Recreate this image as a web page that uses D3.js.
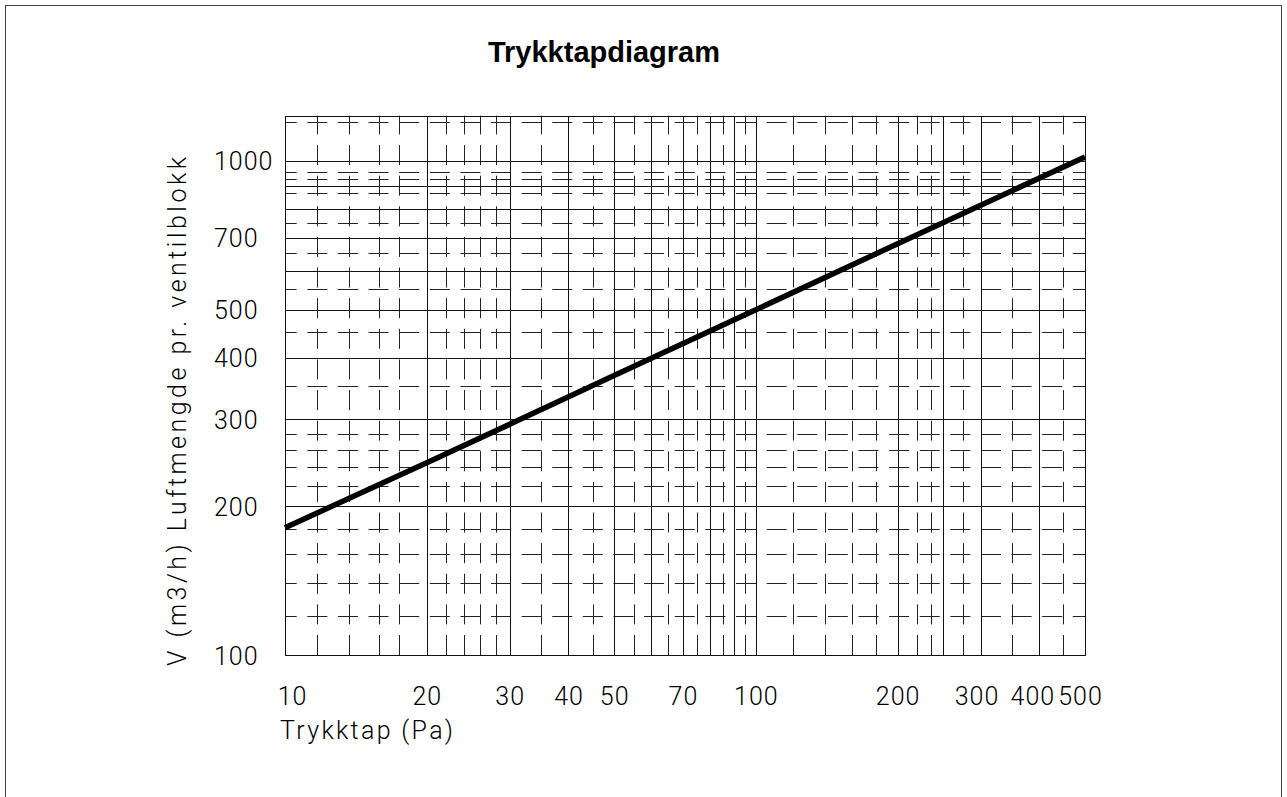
<!DOCTYPE html>
<html>
<head>
<meta charset="utf-8">
<script src="https://cdn.jsdelivr.net/npm/d3@7"></script>
<style>
  html, body { margin: 0; padding: 0; background: #fff; }
  svg { display: block; }
  .cad { font-family: Roboto, "DejaVu Sans", sans-serif; font-weight: 300; fill: #000; }
</style>
</head>
<body>
<svg id="chart" width="1287" height="797"></svg>
<script>
// ---- data ----
const chartTitle = "Trykktapdiagram";
const xTitle = "Trykktap (Pa)";
const yTitle = "V (m3/h) Luftmengde pr. ventilblokk";

const pressureDomain = [10, 500];
const flowDomain = [100, 1235];

const pressureTicks = [10, 20, 30, 40, 50, 70, 100, 200, 300, 400, 500];
const flowTicks = [100, 200, 300, 400, 500, 700, 1000];

const xGridSolid = [20, 30, 40, 50, 60, 70, 80, 90, 100, 200, 250, 300, 400];
const xGridDashed = [11.7, 13.7, 15.8, 17.5, 22, 24, 26, 28, 35, 45, 55, 65, 75, 85, 95,
                     120, 140, 160, 180, 220, 235, 275, 350, 450];
const yGridSolid = [200, 300, 400, 500, 600, 700, 800, 890, 1000];
const yGridDashed = [120, 140, 160, 180, 220, 240, 260, 280, 350, 450, 550, 650, 750,
                     860, 920, 950, 1200];

const curvePressure = [10, 20, 30, 50, 100, 200, 500];
const curveFlow = [181, 245, 293, 368, 500, 680, 1019];

// ---- layout ----
const svg = d3.select("#chart");
const L = 285, R = 1085, T = 115.7, B = 655;

const x = d3.scaleLog().domain(pressureDomain).range([L, R]);
const y = d3.scaleLog().domain(flowDomain).range([B, T]);

// outer frame
svg.append("rect")
  .attr("x", 5.5).attr("y", 5.5).attr("width", 1276).attr("height", 820)
  .attr("fill", "none").attr("stroke", "#444").attr("stroke-width", 1);

// title
svg.append("text")
  .attr("x", 604).attr("y", 62)
  .attr("text-anchor", "middle")
  .style("font-family", "'Liberation Sans', Arial, sans-serif")
  .style("font-weight", "bold")
  .style("font-size", "29px")
  .text(chartTitle);

const px = v => Math.round(v) + 0.5;

const grid = svg.append("g");

// dashed verticals (pattern starts at bottom)
grid.selectAll("line.vd").data(xGridDashed).join("line")
  .attr("class", "vd")
  .attr("x1", d => px(x(d))).attr("x2", d => px(x(d)))
  .attr("y1", B).attr("y2", T)
  .attr("stroke", "#222").attr("stroke-width", 1)
  .attr("stroke-dasharray", "20 10.62");

// dashed horizontals
grid.selectAll("line.hd").data(yGridDashed).join("line")
  .attr("class", "hd")
  .attr("x1", L).attr("x2", R)
  .attr("y1", d => px(y(d))).attr("y2", d => px(y(d)))
  .attr("stroke", "#222").attr("stroke-width", 1)
  .attr("stroke-dasharray", "20 10.62")
  .attr("stroke-dashoffset", 8.3);

// solid grid via axes
const xGridAxis = d3.axisBottom(x).tickValues(xGridSolid).tickSize(-(B - T)).tickFormat("");
grid.append("g").attr("transform", `translate(0,${B})`).call(xGridAxis)
  .call(g => g.select(".domain").remove())
  .call(g => g.selectAll("line").attr("stroke", "#111").attr("shape-rendering", "crispEdges"));

const yGridAxis = d3.axisLeft(y).tickValues(yGridSolid).tickSize(-(R - L)).tickFormat("");
grid.append("g").attr("transform", `translate(${L},0)`).call(yGridAxis)
  .call(g => g.select(".domain").remove())
  .call(g => g.selectAll("line").attr("stroke", "#111").attr("shape-rendering", "crispEdges"));

// plot border
grid.append("rect")
  .attr("x", px(L)).attr("y", px(T)).attr("width", Math.round(R - L)).attr("height", Math.round(B - T))
  .attr("fill", "none").attr("stroke", "#111").attr("stroke-width", 1);

// curve
const curveData = curvePressure.map((p, i) => [p, curveFlow[i]]);
svg.append("path")
  .datum(curveData)
  .attr("d", d3.line().x(d => x(d[0])).y(d => y(d[1])))
  .attr("fill", "none").attr("stroke", "#000").attr("stroke-width", 5.5)
  .attr("stroke-linecap", "butt");

// axes labels
const labelShift = { 10: 7, 300: -4, 400: -7, 500: -5 };
const xAxis = d3.axisBottom(x).tickValues(pressureTicks).tickSize(0).tickPadding(0)
  .tickFormat(d3.format("d"));
svg.append("g").attr("transform", `translate(0,${B})`).call(xAxis)
  .call(g => g.select(".domain").remove())
  .call(g => g.selectAll("text")
    .attr("class", "cad").attr("y", 50).attr("dy", 0)
    .attr("x", d => labelShift[d] || 0)
    .style("font-size", "25px").style("letter-spacing", "1px"));

const yAxis = d3.axisLeft(y).tickValues(flowTicks).tickSize(0).tickPadding(0)
  .tickFormat(d3.format("d"));
svg.append("g").attr("transform", `translate(${L},0)`).call(yAxis)
  .call(g => g.select(".domain").remove())
  .call(g => g.selectAll("text")
    .attr("class", "cad").attr("x", -71).attr("dy", 9)
    .attr("text-anchor", "start")
    .style("font-size", "25px").style("letter-spacing", "1px"));

svg.append("text")
  .attr("class", "cad")
  .attr("x", 280).attr("y", 739)
  .attr("textLength", 173).attr("lengthAdjust", "spacing")
  .style("font-size", "25px")
  .text(xTitle);

svg.append("text")
  .attr("class", "cad")
  .attr("transform", "translate(186,666) rotate(-90)")
  .attr("textLength", 509).attr("lengthAdjust", "spacing")
  .style("font-size", "25px")
  .text(yTitle);
</script>
</body>
</html>
